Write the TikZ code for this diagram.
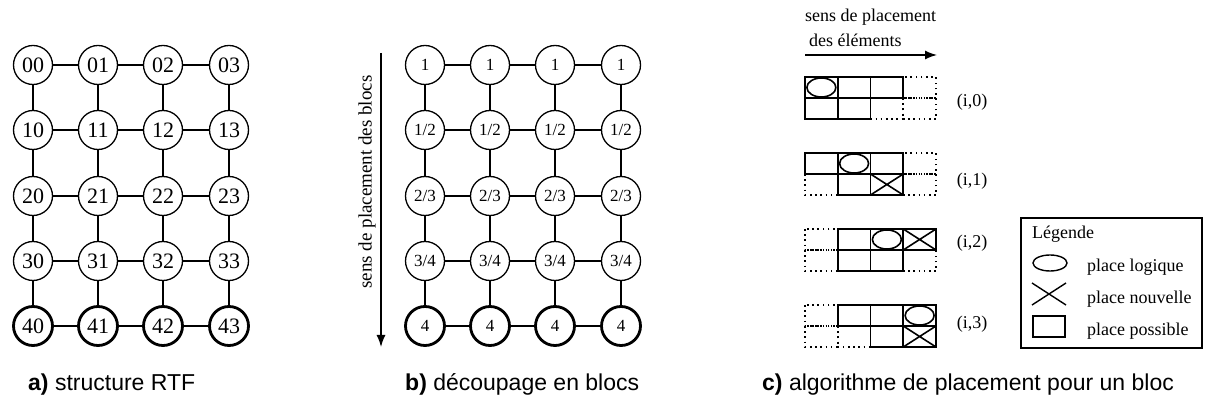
\documentclass[tikz,border=0pt]{standalone}
\usepackage{fontspec}
\setmainfont{Liberation Serif}
\newfontfamily\capfont{Liberation Sans}
\usetikzlibrary{arrows.meta}
\begin{document}
\begin{tikzpicture}[x=1pt,y=-1pt,
  pe/.style={circle,draw,minimum size=39pt,inner sep=0pt,line width=1.3pt,fill=white},
  pelast/.style={pe,line width=2.8pt},
  link/.style={line width=1.3pt},
  numa/.style={font=\fontsize{22}{24}\selectfont},
  numb/.style={font=\fontsize{17}{20}\selectfont},
  txt/.style={font=\fontsize{18}{21}\selectfont,inner sep=0pt},
  caption/.style={font=\capfont\fontsize{23}{27}\selectfont,anchor=base west,inner sep=0pt},
  solidslot/.style={draw,line width=1.8pt},
  dotslot/.style={draw,line width=1.6pt,dash pattern=on 1.6pt off 3.6pt},
  flow/.style={line width=1.4pt,-{Latex[length=12pt,width=9pt]}}]
\useasboundingbox (0,0) rectangle (1208,419);

% ---------- a) RTF structure: 5 x 4 grid of processing elements ----------
\foreach \r/\y in {0/65,1/130,2/196,3/261}
  \foreach \c/\x in {0/33,1/98,2/163,3/229}
    \node[pe,numa] (a-\r-\c) at (\x,\y) {\r\c};
\foreach \c/\x in {0/33,1/98,2/163,3/229}
  \node[pelast,numa] (a-4-\c) at (\x,326) {4\c};
\foreach \r in {0,1,2,3,4}
  \foreach \c/\n in {0/1,1/2,2/3}
    \draw[link] (a-\r-\c) -- (a-\r-\n);
\foreach \r/\n in {0/1,1/2,2/3,3/4}
  \foreach \c in {0,1,2,3}
    \draw[link] (a-\r-\c) -- (a-\n-\c);

% ---------- b) division into blocks ----------
\foreach \r/\y/\t in {0/65/1,1/130/1\slash2,2/196/2\slash3,3/261/3\slash4}
  \foreach \c/\x in {0/425,1/490,2/555,3/621}
    \node[pe,numb] (b-\r-\c) at (\x,\y) {\t};
\foreach \c/\x in {0/425,1/490,2/555,3/621}
  \node[pelast,numb] (b-4-\c) at (\x,326) {4};
\foreach \r in {0,1,2,3,4}
  \foreach \c/\n in {0/1,1/2,2/3}
    \draw[link] (b-\r-\c) -- (b-\r-\n);
\foreach \r/\n in {0/1,1/2,2/3,3/4}
  \foreach \c in {0,1,2,3}
    \draw[link] (b-\r-\c) -- (b-\n-\c);

\coordinate (bstart) at (381,53);
\coordinate (bend) at (381,347);
\draw[flow] (bstart) -- (bend);
\node[txt,rotate=90,font=\fontsize{19}{22}\selectfont] (blabel) at (367,182) {sens de placement des blocs};

% ---------- c) placement algorithm for one block ----------
\node[txt,anchor=west] (ctitle1) at (805,17) {sens de placement};
\node[txt,anchor=west] (ctitle2) at (809,40) {des éléments};
\coordinate (cstart) at (805,55);
\coordinate (cend) at (937,55);
\draw[flow] (cstart) -- (cend);

% slot grid: column width 32.75, row height 21
\foreach \y/\dots/\solids/\ex/\ey/\hasx/\xx/\xy in {
    77/{3/0,2/1,3/1}/{0/0,1/0,2/0,0/1,1/1}/0/0/0/0/0,
    153/{3/0,0/1,3/1}/{0/0,1/0,2/0,1/1,2/1}/1/0/1/2/1,
    229/{0/0,0/1,3/1}/{1/0,2/0,3/0,1/1,2/1}/2/0/1/3/0,
    305/{0/0,0/1,1/1}/{1/0,2/0,3/0,2/1,3/1}/3/0/1/3/1} {
  \foreach \c/\r in \dots
    \draw[dotslot] ({805+32.75*\c},{\y+21*\r}) rectangle ++(32.75,21);
  \foreach \c/\r in \solids
    \draw[solidslot] ({805+32.75*\c},{\y+21*\r}) rectangle ++(32.75,21);
  \draw[line width=1.6pt] ({805+32.75*\ex+16.375},{\y+21*\ey+10.5}) ellipse [x radius=14.5, y radius=9.5];
  \ifnum\hasx=1
    \draw[line width=1.6pt] ({805+32.75*\xx},{\y+21*\xy}) -- ++(32.75,21)
                            ({805+32.75*\xx},{\y+21*\xy+21}) -- ++(32.75,-21);
  \fi
}
\node[txt] (lab0) at (972,102) {(i,0)};
\node[txt] (lab1) at (972,181) {(i,1)};
\node[txt] (lab2) at (972,243) {(i,2)};
\node[txt] (lab3) at (972,324) {(i,3)};

% legend
\draw[line width=1.3pt] (1021,218) rectangle (1202,348);
\node[txt,anchor=west] (leg) at (1032,234) {Légende};
\draw[line width=1.4pt] (1050,263) ellipse [x radius=17, y radius=8];
\draw[line width=1.4pt] (1032,283) -- (1066,305) (1032,305) -- (1066,283);
\draw[line width=1.4pt] (1033,316) rectangle (1065,337);
\node[txt,anchor=west] (leg1) at (1087,267) {place logique};
\node[txt,anchor=west] (leg2) at (1087,299) {place nouvelle};
\node[txt,anchor=west] (leg3) at (1087,331) {place possible};

% ---------- captions ----------
\node[caption] (capa) at (28,391) {\textbf{a)} structure RTF};
\node[caption] (capb) at (405,391) {\textbf{b)} découpage en blocs};
\node[caption] (capc) at (762,391) {\textbf{c)} algorithme de placement pour un bloc};
\end{tikzpicture}
\end{document}
